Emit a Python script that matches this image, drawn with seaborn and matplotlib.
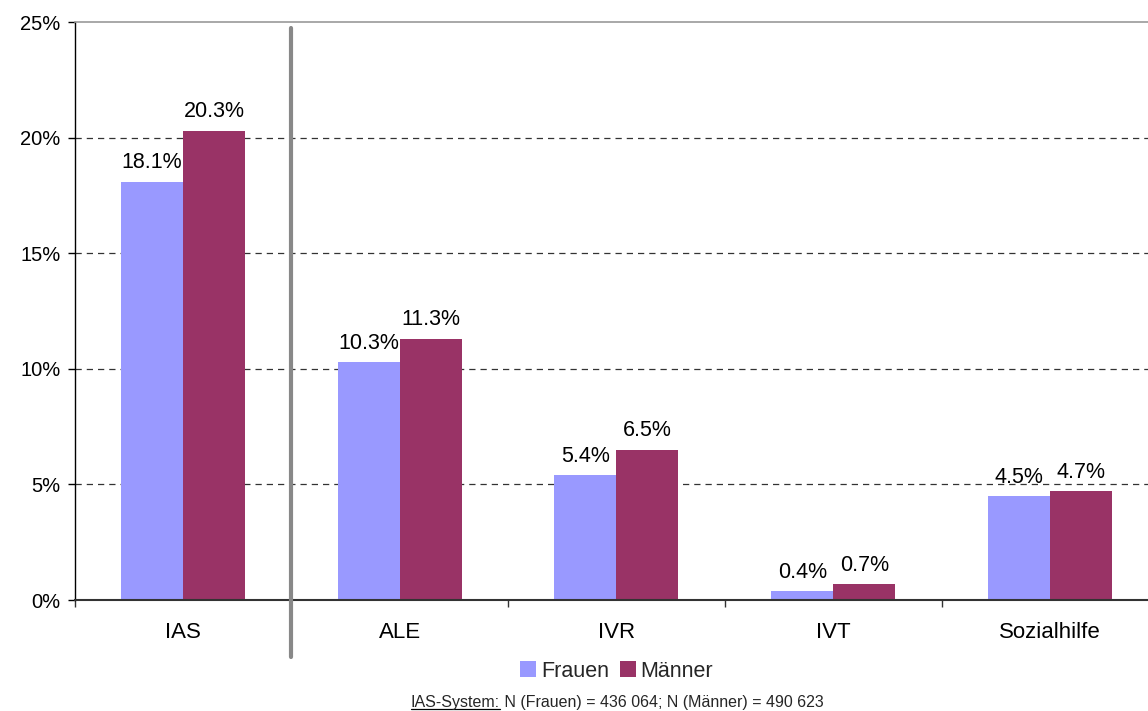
import matplotlib
matplotlib.use("Agg")
import matplotlib.pyplot as plt
import seaborn as sns
import pandas as pd
from matplotlib.lines import Line2D
from matplotlib.patches import Patch

categories = ["IAS", "ALE", "IVR", "IVT", "Sozialhilfe"]
frauen = [18.1, 10.3, 5.4, 0.4, 4.5]
maenner = [20.3, 11.3, 6.5, 0.7, 4.7]
series = ["Frauen", "Männer"]
colors = ["#9999FF", "#993366"]
yticks = [0, 5, 10, 15, 20, 25]
footnote_head = "IAS-System:"
footnote_tail = " N (Frauen) = 436 064; N (Männer) = 490 623"

df = pd.DataFrame({
    "Kategorie": categories * 2,
    "Geschlecht": [series[0]] * len(categories) + [series[1]] * len(categories),
    "Wert": frauen + maenner,
})

sns.set_theme(style="white")
plt.rcParams["font.family"] = ["Liberation Sans", "DejaVu Sans"]

fig = plt.figure(figsize=(11.48, 7.11), dpi=100)
ax = fig.add_axes([0.065, 0.156, 0.944, 0.813])

sns.barplot(data=df, x="Kategorie", y="Wert", hue="Geschlecht", palette=colors,
            width=0.572, saturation=1, ax=ax, legend=False, errorbar=None,
            linewidth=0, edgecolor="none")

for cont in ax.containers:
    ax.bar_label(cont, labels=[f"{v:.1f}%" for v in cont.datavalues],
                 padding=6, fontsize=15.5, color="black")

ax.set_ylim(0, 25)
ax.set_xlim(-0.5, len(categories) - 0.5)
ax.set_yticks(yticks)
ax.set_yticklabels([f"{v}%" for v in yticks], fontsize=14.5, color="black")
ax.set_xticklabels(categories, fontsize=16, color="black")
ax.set_xlabel("")
ax.set_ylabel("")

ax.set_xticks([i - 0.5 for i in range(len(categories) + 1)], minor=True)
ax.tick_params(axis="x", which="major", length=0, pad=16)
ax.tick_params(axis="x", which="minor", length=5, width=1, color="#333333", direction="out", bottom=True)
ax.tick_params(axis="y", which="major", length=5, width=1, color="black", direction="out", left=True, pad=5)

for v in yticks[1:-1]:
    ax.axhline(v, color="#333333", lw=0.9, ls=(0, (5, 4)), zorder=0)

ax.spines["right"].set_visible(False)
ax.spines["top"].set_color("#999999")
ax.spines["top"].set_linewidth(1.2)
ax.spines["left"].set_color("black")
ax.spines["left"].set_linewidth(1.0)
ax.spines["bottom"].set_color("#333333")
ax.spines["bottom"].set_linewidth(1.5)

ax.axvline(0.5, ymin=-0.0986, ymax=0.99, color="#888888", lw=3, clip_on=False, zorder=5)

handles = [Patch(facecolor=c, edgecolor="none") for c in colors]
fig.legend(handles, series, loc="center", bbox_to_anchor=(0.537, 0.056), ncol=2,
           frameon=False, fontsize=15.5, handlelength=0.75, handleheight=0.75,
           handletextpad=0.2, columnspacing=0.5)

fig.canvas.draw()
renderer = fig.canvas.get_renderer()
t1 = fig.text(0, 0.0055, footnote_head, fontsize=11.5, ha="left", va="baseline")
t2 = fig.text(0, 0.0055, footnote_tail, fontsize=11.5, ha="left", va="baseline")
w1 = t1.get_window_extent(renderer).width / fig.bbox.width
w2 = t2.get_window_extent(renderer).width / fig.bbox.width
x0 = 0.5375 - (w1 + w2) / 2
t1.set_x(x0)
t2.set_x(x0 + w1)
fig.add_artist(Line2D([x0, x0 + w1], [0.0022, 0.0022], color="black", lw=0.9,
                      transform=fig.transFigure))

fig.savefig("out.png", dpi=100)
